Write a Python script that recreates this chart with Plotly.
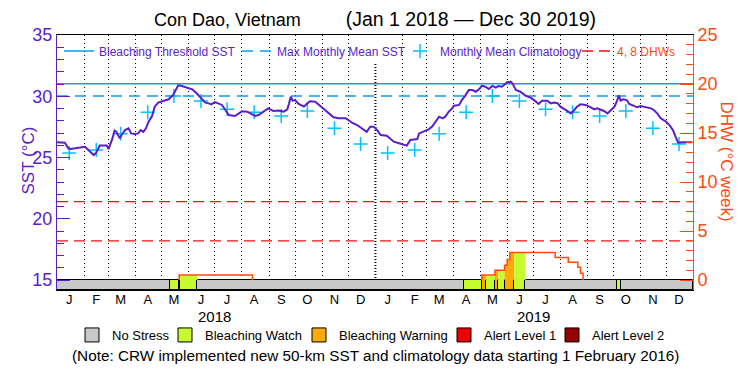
import pandas as pd
import plotly.graph_objects as go

# ---------------- data ----------------
SITE = "Con Dao, Vietnam"
PERIOD_LABEL = "(Jan 1 2018 — Dec 30 2019)"
YEARS = [2018, 2019]
PERIOD = ("2018-01-01", "2019-12-30")
MONTH_LETTERS = ["J", "F", "M", "A", "M", "J", "J", "A", "S", "O", "N", "D"]

SST_DATES = [
    "2018-01-01", "2018-01-10", "2018-01-14", "2018-01-16", "2018-01-22", "2018-02-02", "2018-02-06",
    "2018-02-12", "2018-02-15", "2018-02-19", "2018-02-27", "2018-03-01", "2018-03-05", "2018-03-08",
    "2018-03-10", "2018-03-14", "2018-03-16", "2018-03-20", "2018-03-24", "2018-03-27", "2018-03-31",
    "2018-04-04", "2018-04-07", "2018-04-10", "2018-04-13", "2018-04-16", "2018-04-20", "2018-04-23",
    "2018-04-27", "2018-05-03", "2018-05-09", "2018-05-14", "2018-05-20", "2018-05-24", "2018-05-30",
    "2018-06-05", "2018-06-10", "2018-06-16", "2018-06-20", "2018-06-24", "2018-06-27", "2018-07-01",
    "2018-07-05", "2018-07-09", "2018-07-13", "2018-07-17", "2018-07-24", "2018-07-28", "2018-08-01",
    "2018-08-07", "2018-08-10", "2018-08-16", "2018-08-20", "2018-08-26", "2018-08-31", "2018-09-06",
    "2018-09-12", "2018-09-18", "2018-09-22", "2018-09-24", "2018-09-26", "2018-09-28", "2018-10-01",
    "2018-10-05", "2018-10-11", "2018-10-15", "2018-10-18", "2018-10-24", "2018-10-30", "2018-11-03",
    "2018-11-08", "2018-11-14", "2018-11-20", "2018-11-28", "2018-12-01", "2018-12-05", "2018-12-11",
    "2018-12-17", "2018-12-22", "2018-12-26", "2018-12-30",
    "2019-01-03", "2019-01-07", "2019-01-14", "2019-01-18", "2019-01-22", "2019-01-28", "2019-02-02",
    "2019-02-06", "2019-02-10", "2019-02-18", "2019-02-20", "2019-02-25", "2019-03-03", "2019-03-07",
    "2019-03-11", "2019-03-15", "2019-03-19", "2019-03-22", "2019-03-26", "2019-03-30", "2019-04-01",
    "2019-04-07", "2019-04-10", "2019-04-14", "2019-04-18", "2019-04-22", "2019-04-26", "2019-04-30",
    "2019-05-03", "2019-05-07", "2019-05-11", "2019-05-15", "2019-05-19", "2019-05-22", "2019-05-26",
    "2019-06-01", "2019-06-05", "2019-06-07", "2019-06-11", "2019-06-16", "2019-06-22", "2019-06-28",
    "2019-07-04", "2019-07-07", "2019-07-11", "2019-07-17", "2019-07-21", "2019-07-25", "2019-07-29",
    "2019-08-01", "2019-08-07", "2019-08-13", "2019-08-17", "2019-08-20", "2019-08-24", "2019-08-30",
    "2019-09-05", "2019-09-09", "2019-09-12", "2019-09-16", "2019-09-20", "2019-09-24", "2019-09-28",
    "2019-10-02", "2019-10-05", "2019-10-07", "2019-10-09", "2019-10-12", "2019-10-16", "2019-10-19",
    "2019-10-25", "2019-10-28", "2019-11-01", "2019-11-07", "2019-11-13", "2019-11-16", "2019-11-20",
    "2019-11-24", "2019-11-30", "2019-12-04", "2019-12-08", "2019-12-11", "2019-12-14", "2019-12-19",
    "2019-12-30",
]
SST_VALUES = [
    26.24, 26.20, 25.75, 25.70, 25.75, 25.88, 25.61,
    25.20, 25.39, 25.97, 25.97, 25.69, 26.43, 27.19,
    27.10, 26.56, 26.84, 27.24, 27.38, 26.97, 26.92,
    26.97, 27.24, 27.10, 27.38, 27.93, 28.39, 29.15,
    29.48, 29.61, 29.75, 30.10, 30.89, 30.84, 30.73,
    30.57, 30.24, 29.83, 29.48, 29.42, 29.34, 29.53,
    29.42, 29.29, 28.88, 28.47, 28.39, 28.60, 28.77,
    28.74, 28.60, 28.39, 28.47, 28.80, 29.01, 28.80,
    28.83, 28.74, 28.93, 29.42, 29.97, 29.64, 29.69,
    29.37, 29.15, 29.42, 29.59, 29.56, 29.20, 28.93,
    28.60, 28.28, 28.20, 28.20, 28.06, 27.84, 27.65,
    27.38, 27.10, 27.52, 27.52,
    27.24, 26.84, 26.78, 26.57, 26.29, 26.16, 26.08,
    25.97, 26.43, 26.51, 26.97, 27.10, 27.30, 27.52,
    27.93, 28.33, 28.20, 28.33, 28.74, 29.01, 29.23,
    29.29, 29.69, 30.05, 30.51, 30.51, 30.37, 30.59,
    30.86, 30.78, 30.59, 30.84, 30.70, 30.84, 30.78,
    31.14, 31.19, 31.05, 30.51, 30.37, 30.05, 29.88,
    29.56, 29.37, 29.64, 29.64, 29.42, 29.48, 29.42,
    29.15, 28.88, 28.60, 28.88, 29.15, 29.34, 29.29,
    29.10, 28.93, 29.01, 28.93, 28.80, 28.60, 28.88,
    29.15, 29.64, 30.07, 29.64, 29.75, 29.69, 29.37,
    29.20, 29.10, 29.20, 29.10, 29.01, 28.88, 28.60,
    28.20, 27.93, 27.65, 27.24, 26.70, 26.21, 26.24,
    26.24,
]

CLIM_MONTHLY = [25.37, 25.61, 26.93, 28.69, 30.02, 29.61, 28.93, 28.69, 28.39, 28.80, 27.38, 26.10]
MMM = 30.02
BLEACHING_THRESHOLD = 31.02
DHW_LEVELS = [4, 8]

DHW_DATES = ["2018-01-01", "2018-05-21", "2018-08-13", "2019-05-03", "2019-05-18", "2019-05-29",
             "2019-06-01", "2019-06-04", "2019-07-26", "2019-08-10", "2019-08-21", "2019-08-24",
             "2019-08-27", "2019-12-30"]
DHW_VALUES = [0, 0.5, 0, 0.5, 1.0, 1.5, 2.1, 2.8, 2.3, 1.8, 1.3, 0.7, 0, 0]

STRESS_START = ["2018-01-01", "2018-05-10", "2018-05-21", "2018-05-22", "2018-06-11", "2019-04-13",
                "2019-05-03", "2019-05-08", "2019-05-18", "2019-05-22", "2019-05-29", "2019-06-09",
                "2019-06-22", "2019-10-05", "2019-10-09"]
STRESS_END = ["2018-05-10", "2018-05-21", "2018-05-22", "2018-06-11", "2019-04-13", "2019-05-03",
              "2019-05-08", "2019-05-18", "2019-05-22", "2019-05-29", "2019-06-09", "2019-06-22",
              "2019-10-05", "2019-10-09", "2019-12-31"]
STRESS_LEVEL = [0, 1, 2, 1, 0, 1, 2, 1, 2, 1, 2, 1, 0, 1, 0]

STRESS_NAMES = ["No Stress", "Bleaching Watch", "Bleaching Warning", "Alert Level 1", "Alert Level 2"]
STRESS_COLORS = ["#C8C8C8", "#C8FA32", "#FAAA0A", "#F00000", "#960000"]

NOTE = "(Note: CRW implemented new 50-km SST and climatology data starting 1 February 2016)"

# ---------------- style ----------------
PURPLE = "#5A1ECC"
BLUE = "#0A9CF5"
CYAN = "#00C4FF"
ORANGE = "#FF4A10"
RED = "#F01010"
FONT = "Liberation Sans"
SST_RANGE = [14.184, 35]
DHW_RANGE = [-1.0204, 25]
PLOT_L, PLOT_W, PLOT_B, PLOT_H = 57, 636, 290, 255


def px_x(p):
    return (p - PLOT_L) / PLOT_W


def px_y(p):
    return (PLOT_B - p) / PLOT_H


# legend placement (left edge of each entry, pixels)
TOP_LEGEND_X = [59, 237, 400, 577]
BOTTOM_LEGEND_X = [72, 165, 299, 444, 552]

x_start = pd.Timestamp(PERIOD[0])
x_end = pd.Timestamp(PERIOD[1]) + pd.Timedelta(days=1)

fig = go.Figure()

# reference lines (left axis)
fig.add_trace(go.Scatter(x=[x_start, x_end], y=[BLEACHING_THRESHOLD] * 2, mode="lines",
                         line=dict(color=BLUE, width=1.5), name="Bleaching Threshold SST",
                         legend="legend"))
fig.add_trace(go.Scatter(x=[x_start, x_end], y=[MMM] * 2, mode="lines",
                         line=dict(color=BLUE, width=1.5, dash="11px,7px"), name="Max Monthly Mean SST",
                         legend="legend3"))

clim_x = [pd.Timestamp(year=y, month=m + 1, day=15) for y in YEARS for m in range(12)]
clim_y = [CLIM_MONTHLY[m] for y in YEARS for m in range(12)]
fig.add_trace(go.Scatter(x=clim_x, y=clim_y, mode="markers", name="Monthly Mean Climatology",
                         legend="legend4",
                         marker=dict(symbol="cross-thin", size=10, color=CYAN,
                                     line=dict(color=CYAN, width=1.5))))

fig.add_trace(go.Scatter(x=pd.to_datetime(SST_DATES), y=SST_VALUES, mode="lines",
                         line=dict(color=PURPLE, width=2), showlegend=False))

# DHW level lines (right axis)
lx, ly = [], []
for lv in DHW_LEVELS:
    lx += [x_start, x_end, None]
    ly += [lv, lv, None]
fig.add_trace(go.Scatter(x=lx, y=ly, yaxis="y2", mode="lines",
                         line=dict(color=RED, width=1.3, dash="11px,6px"),
                         name="4, 8 DHWs", legend="legend5"))

dhw_dates = pd.to_datetime(DHW_DATES)


def dhw_at(t):
    val = 0
    for d, v in zip(dhw_dates, DHW_VALUES):
        if d <= t:
            val = v
    return val


# coloured fill under the DHW curve, per stress period
for s, e, lvl in zip(STRESS_START, STRESS_END, STRESS_LEVEL):
    if lvl == 0:
        continue
    ts, te = pd.Timestamp(s), pd.Timestamp(e)
    fx = [ts] + [d for d in dhw_dates if ts < d < te] + [te]
    fy = [dhw_at(t) for t in fx[:-1]]
    fy.append(fy[-1])
    if max(fy) <= 0:
        continue
    fig.add_trace(go.Scatter(x=fx, y=fy, yaxis="y2", mode="lines", line=dict(width=0, shape="hv"),
                             fill="tozeroy", fillcolor=STRESS_COLORS[lvl], showlegend=False,
                             hoverinfo="skip"))

# DHW step line, drawn only where it departs from zero
sx, sy = [], []
prev = 0
for d, v in zip(dhw_dates, DHW_VALUES):
    if prev == 0 and v == 0:
        continue
    if prev == 0 and sx:
        sx.append(None)
        sy.append(None)
    sx += [d, d]
    sy += [prev, v]
    prev = v
fig.add_trace(go.Scatter(x=sx, y=sy, yaxis="y2", mode="lines", line=dict(color=ORANGE, width=1.5),
                         showlegend=False))

# stress bar along the bottom
for lvl in range(len(STRESS_NAMES)):
    bx, bw = [], []
    for s, e, l in zip(STRESS_START, STRESS_END, STRESS_LEVEL):
        if l != lvl:
            continue
        ts, te = pd.Timestamp(s), pd.Timestamp(e)
        bx.append(ts + (te - ts) / 2)
        bw.append((te - ts).total_seconds() * 1000)
    if not bx:
        continue
    fig.add_trace(go.Bar(x=bx, y=[-DHW_RANGE[0]] * len(bx), base=DHW_RANGE[0], width=bw, yaxis="y2",
                         marker=dict(color=STRESS_COLORS[lvl], line=dict(color="black", width=1)),
                         showlegend=False, hoverinfo="skip"))

# bottom legend entries (one legend each, so they can sit where the reference puts them)
bottom_ids = ["legend2", "legend6", "legend7", "legend8", "legend9"]
for name, col, lid in zip(STRESS_NAMES, STRESS_COLORS, bottom_ids):
    fig.add_trace(go.Scatter(x=[None], y=[None], yaxis="y2", mode="markers", name=name,
                             legend=lid,
                             marker=dict(symbol="square", size=14, color=col,
                                         line=dict(color="black", width=1))))

month_starts = pd.date_range(PERIOD[0], PERIOD[1], freq="MS")
grid_vals = [d for d in month_starts if d.month != 1]
mid_months = [d + pd.Timedelta(days=14) for d in month_starts]
tick_text = [MONTH_LETTERS[d.month - 1] for d in month_starts]

annotations = [
    dict(text=str(y), x=pd.Timestamp(year=y, month=7, day=1), xref="x", y=px_y(316), yref="paper",
         showarrow=False, font=dict(size=15, color="black"), yanchor="middle")
    for y in YEARS
]
annotations += [
    dict(text=NOTE, x=0.5, xref="paper", y=px_y(355), yref="paper", showarrow=False,
         font=dict(size=15.3, color="black"), yanchor="middle"),
    dict(text="SST (°C)", x=px_x(16), xref="paper", y=px_y(161), yref="paper", showarrow=False,
         textangle=-90, font=dict(size=17, color=PURPLE)),
    dict(text="DHW (°C week)", x=px_x(738), xref="paper", y=px_y(161), yref="paper", showarrow=False,
         textangle=90, font=dict(size=17, color=ORANGE)),
]

year_start = pd.Timestamp(year=YEARS[1], month=1, day=1)
shapes = [
    dict(type="line", xref="x", yref="paper", x0=year_start, x1=year_start, y0=0, y1=px_y(63),
         layer="between", line=dict(color="black", width=2, dash="1px,2px")),
    dict(type="rect", xref="paper", yref="paper", x0=0, x1=1, y0=px_y(63), y1=1, layer="between",
         fillcolor="white", line=dict(width=0)),
]


def legend_at(xpix, ypix, size, color):
    return dict(orientation="h", x=px_x(xpix), xanchor="left", y=px_y(ypix), yanchor="middle",
                font=dict(size=size, color=color), bgcolor="rgba(0,0,0,0)", borderwidth=0,
                itemwidth=30)


legends = {}
top_ids = ["legend", "legend3", "legend4", "legend5"]
top_colors = [PURPLE, PURPLE, PURPLE, ORANGE]
for lid, xp, col in zip(top_ids, TOP_LEGEND_X, top_colors):
    legends[lid] = legend_at(xp, 51, 12, col)
for lid, xp in zip(bottom_ids, BOTTOM_LEGEND_X):
    legends[lid] = legend_at(xp, 335, 13, "black")

gap = "\u00a0" * 9
title_text = f"{SITE}{gap}<span style='font-size:19.5px'>{PERIOD_LABEL}</span>"
fig.update_layout(
    width=750, height=375,
    margin=dict(l=57, r=57, t=35, b=85),
    paper_bgcolor="white", plot_bgcolor="white",
    font=dict(family=FONT, size=13, color="black"),
    title=dict(text=title_text, x=0.5, xanchor="center",
               y=1 - 20 / 375, yanchor="middle", font=dict(size=18, color="black")),
    barmode="overlay",
    bargap=0,
    xaxis=dict(type="date", range=[x_start, x_end], tickmode="array", tickvals=mid_months,
               ticktext=tick_text, ticks="", showgrid=False, zeroline=False,
               showline=True, mirror=True, linecolor="black", linewidth=1,
               tickfont=dict(size=13, color="black"), ticklabelstandoff=-3,
               minor=dict(tickmode="array", tickvals=grid_vals, showgrid=True, gridcolor="black",
                          griddash="1px,3px", gridwidth=1, ticks="")),
    yaxis=dict(range=SST_RANGE, tickmode="array", tickvals=[15, 20, 25, 30, 35], ticks="inside",
               ticklen=13, tickwidth=1, tickcolor=PURPLE, showline=True, linecolor=PURPLE,
               linewidth=1, showgrid=False, zeroline=False,
               tickfont=dict(size=18, color=PURPLE),
               minor=dict(tickmode="array", tickvals=list(range(15, 36)), ticks="inside",
                          ticklen=7, tickcolor=PURPLE, showgrid=False)),
    yaxis2=dict(overlaying="y", side="right", range=DHW_RANGE, tickmode="array",
                tickvals=[0, 5, 10, 15, 20, 25], ticks="inside", ticklen=13, tickwidth=1,
                tickcolor=ORANGE, showline=True, linecolor=ORANGE, linewidth=1,
                showgrid=False, zeroline=False, tickfont=dict(size=18, color=ORANGE),
                minor=dict(tickmode="array", tickvals=list(range(0, 26)), ticks="inside",
                           ticklen=7, tickcolor=ORANGE, showgrid=False)),
    annotations=annotations,
    shapes=shapes,
    **legends,
)

fig.write_html("out.html", config={"displayModeBar": False},
               post_script="document.body.style.margin='0px';")
